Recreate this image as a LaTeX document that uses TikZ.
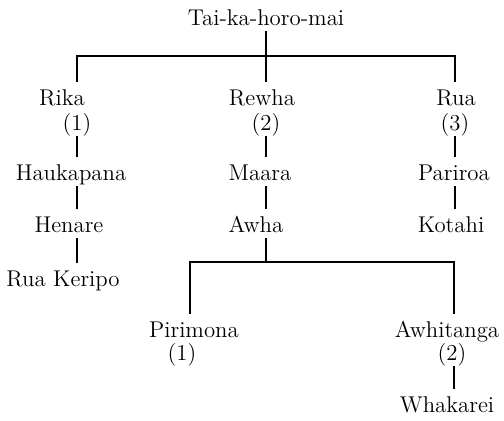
\documentclass[tikz,border=0pt]{standalone}
\usetikzlibrary{positioning,calc}
\tikzset{
  person/.style={anchor=base, inner xsep=1pt, inner ysep=0.5pt, text height=11pt, text depth=2.5pt, font=\fontsize{11.4}{13}\selectfont},
  line/.style={line width=1.1pt}
}
\begin{document}
\begin{tikzpicture}[x=0.5pt,y=-0.5pt]
        \useasboundingbox (0,0) rectangle (504,420);

        % people, at their baselines
        \foreach \name/\x/\y/\lbl in {top/266/25/Tai-ka-horo-mai,
            rika/62/105/Rika, rikaN/77/130/(1), rewha/262/105/Rewha, rewhaN/266/130/(2), rua/456/105/Rua, ruaN/455/130/(3),
            hauka/71/180/Haukapana, maara/260/180/Maara, pariroa/454/180/Pariroa,
            henare/69/232/Henare, awha/256/232/Awha, kotahi/451/232/Kotahi,
            keripo/63/286/Rua Keripo,
            pirimona/194/337/Pirimona, pirimonaN/182/360/(1), awhitanga/447/337/Awhitanga, awhitangaN/452/360/(2),
            whakarei/447/412/Whakarei} {
            \node[person] (\name) at (\x,\y) {\lbl};
        }

        \coordinate (bar1) at (266,56);
        \coordinate (bar2L) at (190,262);
        \coordinate (bar2R) at (454,262);

        % first generation
        \draw[line] (top) -- (rewha.north -| rewhaN);
        \draw[line] (rika.north -| rikaN) |- (bar1) -| (rua.north -| ruaN);

        % lines of descent
        \foreach \a/\b/\c in {rikaN/hauka/rikaN, hauka/henare/rikaN, henare/keripo/rikaN,
            rewhaN/maara/rewhaN, maara/awha/rewhaN, ruaN/pariroa/ruaN, pariroa/kotahi/ruaN,
            awhitangaN/whakarei/bar2R} {
            \draw[line] (\a.south -| \c) -- (\b.north -| \c);
        }

        % children of Awha
        \draw[line] (awha.south -| rewhaN) -- (bar2L -| rewhaN);
        \draw[line] (pirimona.north -| bar2L) -- (bar2L) -- (bar2R) -- (awhitanga.north -| bar2R);
\end{tikzpicture}
\end{document}
